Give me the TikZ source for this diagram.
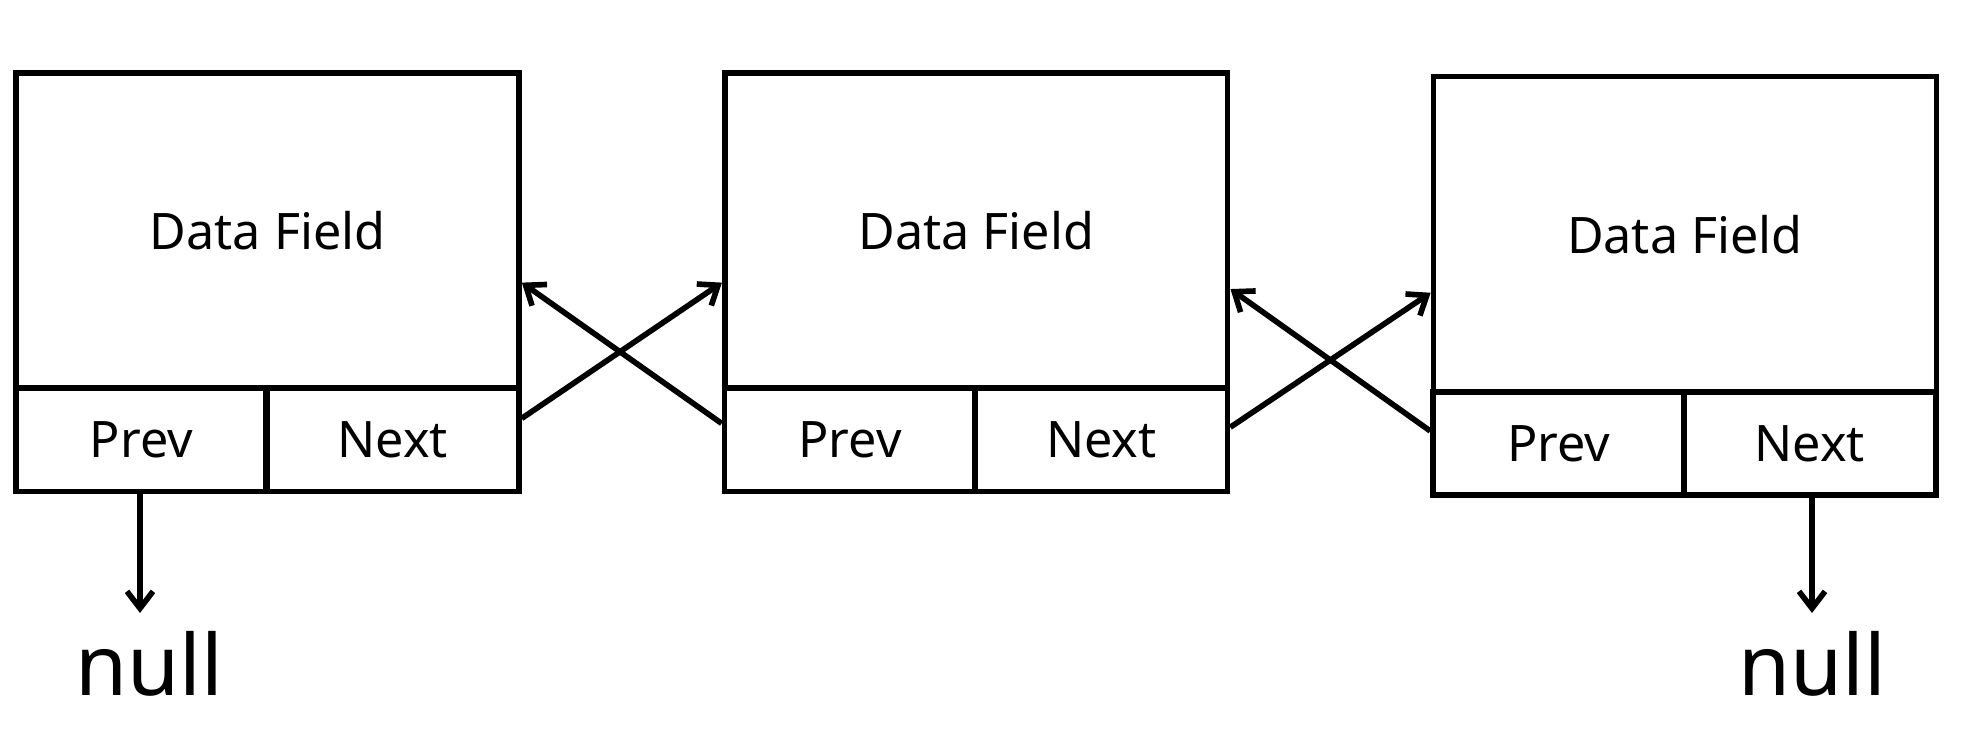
\documentclass[tikz,border=0pt]{standalone}
\usepackage{fontspec}
\setmainfont{Noto Sans}
\usetikzlibrary{arrows.meta}
\begin{document}
\begin{tikzpicture}[x=0.01cm,y=-0.01cm,
  cell/.style={draw,line width=1.6pt,inner sep=0pt,font=\fontsize{14.3}{16}\selectfont},
  datacell/.style={cell,minimum width=5.026cm,minimum height=3.153cm},
  ptrcell/.style={cell,minimum width=2.51cm,minimum height=1.03cm},
  link/.style={line width=1.6pt,-{Straight Barb[length=1.7mm,width=2.6mm]}},
  nulltext/.style={font=\fontsize{24}{28}\selectfont,inner sep=0pt,anchor=base}]
\useasboundingbox (0,0) rectangle (1970,736);
% node 1
\node[datacell] (d1) at (267.6,230.6) {Data Field};
\node[ptrcell] (p1) at (141.4,439.8) {Prev};
\node[ptrcell,minimum width=2.525cm] (n1) at (392.6,439.8) {Next};
% node 2
\node[datacell] (d2) at (976.2,230.6) {Data Field};
\node[ptrcell] (p2) at (850,439.8) {Prev};
\node[ptrcell,minimum width=2.525cm] (n2) at (1101.2,439.8) {Next};
% node 3
\node[datacell] (d3) at (1684.9,234.3) {Data Field};
\node[ptrcell] (p3) at (1558.6,443.5) {Prev};
\node[ptrcell,minimum width=2.525cm] (n3) at (1809.9,443.5) {Next};
% null labels
\node[nulltext] (null1) at (149,695) {null};
\node[nulltext] (null2) at (1812,695) {null};
\coordinate (t1) at (140,613);
\coordinate (t2) at (1812,613);
% links
\draw[link] ([yshift=0.214cm]n1.east) -- ([yshift=-0.52cm]d2.west);
\draw[link] ([yshift=0.164cm]p2.west) -- ([yshift=-0.52cm]d1.east);
\draw[link] ([yshift=0.126cm]n2.east) -- ([yshift=-0.584cm]d3.west);
\draw[link] ([yshift=0.125cm]p3.west) -- ([yshift=-0.584cm]d2.east);
\draw[link] (p1.south -| t1) -- (t1);
\draw[link] (n3.south -| t2) -- (t2);
\end{tikzpicture}
\end{document}
